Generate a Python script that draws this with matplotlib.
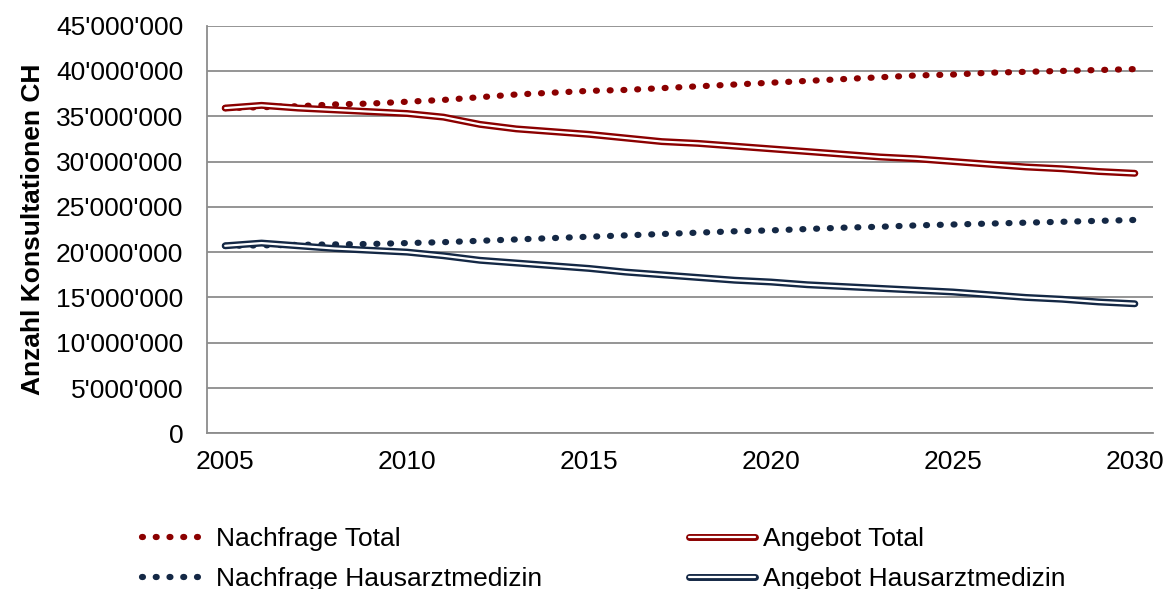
import matplotlib
matplotlib.use("Agg")
import matplotlib.pyplot as plt
import matplotlib.patheffects as pe
from matplotlib.ticker import FuncFormatter, MultipleLocator

plt.rcParams['font.family'] = ['Liberation Sans', 'DejaVu Sans']

years = list(range(2005, 2031))
nachfrage_total = [35.9, 36.0, 36.1, 36.3, 36.4, 36.6, 36.8, 37.1, 37.4, 37.6, 37.8, 37.9, 38.1,
                   38.3, 38.5, 38.7, 38.9, 39.1, 39.3, 39.5, 39.6, 39.8, 39.9, 40.0, 40.1, 40.2]
angebot_total = [35.9, 36.2, 35.9, 35.7, 35.5, 35.3, 34.9, 34.1, 33.6, 33.3, 33.0, 32.6, 32.2,
                 32.0, 31.7, 31.4, 31.1, 30.8, 30.5, 30.3, 30.0, 29.7, 29.4, 29.2, 28.9, 28.7]
nachfrage_haus = [20.7, 20.75, 20.8, 20.85, 20.9, 21.0, 21.1, 21.25, 21.4, 21.55, 21.7, 21.85, 22.0,
                  22.15, 22.3, 22.4, 22.55, 22.7, 22.8, 22.95, 23.05, 23.15, 23.25, 23.35, 23.45, 23.55]
angebot_haus = [20.7, 21.0, 20.7, 20.4, 20.2, 20.0, 19.6, 19.1, 18.8, 18.5, 18.2, 17.8, 17.5,
                17.2, 16.9, 16.7, 16.4, 16.2, 16.0, 15.8, 15.6, 15.3, 15.0, 14.8, 14.5, 14.3]

labels = ["Nachfrage Total", "Angebot Total", "Nachfrage Hausarztmedizin", "Angebot Hausarztmedizin"]
RED = "#8B0000"
BLUE = "#142845"
FS = 19

fig = plt.figure(figsize=(11.68, 5.89), dpi=100)
ax = fig.add_axes([0.1772, 0.2643, 0.9872 - 0.1772, 0.9565 - 0.2643])

def scale(v):
    return [x * 1e6 for x in v]

def dotted(y, color, label):
    ln, = ax.plot(years, scale(y), color=color, lw=4.5, linestyle=(0, (0.15, 2.05)),
                  dash_capstyle='round', label=label, zorder=3)
    return ln

def double(y, color, label):
    ln, = ax.plot(years, scale(y), color='white', lw=1.6, solid_capstyle='round',
                  solid_joinstyle='round', label=label, zorder=3,
                  path_effects=[pe.Stroke(linewidth=5.0, foreground=color, capstyle='round', joinstyle='round'),
                                pe.Normal()])
    return ln

h_nt = dotted(nachfrage_total, RED, labels[0])
h_at = double(angebot_total, RED, labels[1])
h_nh = dotted(nachfrage_haus, BLUE, labels[2])
h_ah = double(angebot_haus, BLUE, labels[3])

ax.set_xlim(2004.5, 2030.5)
ax.set_ylim(0, 45e6)
ax.yaxis.set_major_locator(MultipleLocator(5e6))
ax.set_xticks([2005, 2010, 2015, 2020, 2025, 2030])

def fmt(v, pos):
    return f"{int(round(v)):,}".replace(",", "'")
ax.yaxis.set_major_formatter(FuncFormatter(fmt))

ax.grid(axis='y', color='#8c8c8c', lw=1.3)
ax.set_axisbelow(True)
for s in ['top', 'right']:
    ax.spines[s].set_visible(False)
for s in ['left', 'bottom']:
    ax.spines[s].set_color('#8c8c8c')
    ax.spines[s].set_linewidth(1.3)
ax.tick_params(axis='both', length=0, labelsize=FS, colors='black')
ax.tick_params(axis='y', pad=17)
ax.tick_params(axis='x', pad=12)
ax.set_ylabel("Anzahl Konsultationen CH", fontsize=FS, fontweight='bold', labelpad=8)

leg = fig.legend([h_nt, h_nh, h_at, h_ah], [labels[0], labels[2], labels[1], labels[3]],
                 ncol=2, loc='upper left', bbox_to_anchor=(0.110, 0.128), frameon=False,
                 fontsize=FS, borderpad=0, handlelength=2.5, handletextpad=0.3,
                 columnspacing=5.6, labelspacing=0.62)

fig.savefig("out.png", dpi=100)
